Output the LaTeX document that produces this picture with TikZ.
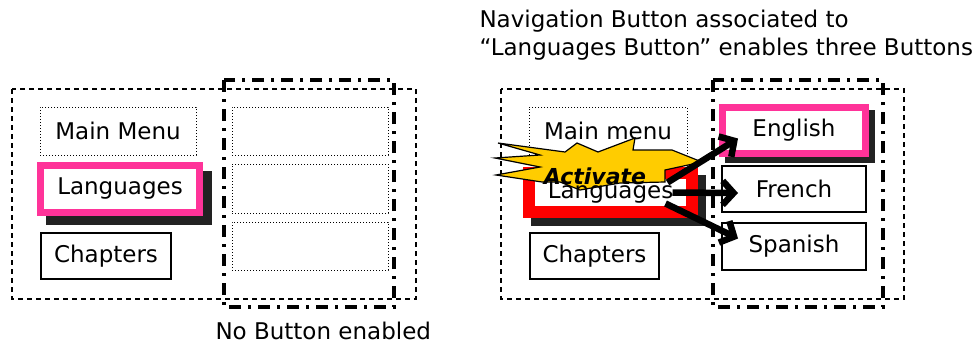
\documentclass[tikz,border=0pt]{standalone}
\usepackage{fontspec}
\setmainfont{DejaVu Sans}
\usetikzlibrary{arrows.meta,backgrounds}

\begin{document}
\begin{tikzpicture}[x=1pt,y=-1pt,
  btntext/.style={font=\fontsize{23}{28}\selectfont},
  acttext/.style={font=\fontsize{22}{26}\selectfont\bfseries\itshape},
  btn/.style={btntext,draw,fill=white,inner sep=0pt},
  idlebtn/.style={btn,line width=0.9pt,dash pattern=on 1pt off 2pt},
  plainbtn/.style={btn,line width=2pt},
  pinkbtn/.style={btn,draw=hotpink,line width=7pt},
  redbtn/.style={btn,draw=red,line width=12pt},
  btnshadow/.style={fill=shadowgrey},
  menuframe/.style={line width=1.5pt,dash pattern=on 5pt off 4pt},
  subframe/.style={line width=4pt,dash pattern=on 12pt off 7pt on 3pt off 7pt},
  burst/.style={fill=burstyellow,draw=black,line width=1.2pt},
  jump/.style={line width=6.5pt,-{Straight Barb[length=11pt,width=24pt]}},
]
\definecolor{hotpink}{RGB}{255,51,153}
\definecolor{shadowgrey}{RGB}{34,34,34}
\definecolor{burstyellow}{RGB}{255,204,0}

\useasboundingbox (0,0) rectangle (974,349);

% Title
\node[btntext,anchor=base west] (title1) at (476,27) {Navigation Button associated to};
\node[btntext,anchor=base west] (title2) at (476,55) {“Languages Button” enables three Buttons};

% Left: nothing enabled
\draw[menuframe] (12,89) rectangle (416,299);
\draw[subframe] (224,80) rectangle (394,307);
\node[idlebtn,minimum width=156,minimum height=48] (mainL) at (118,131) {Main Menu};
\node[pinkbtn,minimum width=159,minimum height=47] (langL) at (120,189) {Languages};
\node[plainbtn,minimum width=130,minimum height=46] (chapL) at (106,256) {Chapters};
\node[idlebtn,minimum width=156,minimum height=48] (slot1) at (310,131) {};
\node[idlebtn,minimum width=156,minimum height=49] (slot2) at (310,188.5) {};
\node[idlebtn,minimum width=156,minimum height=48] (slot3) at (310,246) {};
\node[btntext,anchor=base west] (nobtn) at (212,339) {No Button enabled};

% Right: languages activated
\draw[menuframe] (501,89) rectangle (904,299);
\draw[subframe] (713,80) rectangle (883,307);
\node[idlebtn,minimum width=158,minimum height=48] (mainR) at (608,131) {Main menu};
\node[redbtn,minimum width=163,minimum height=39] (langR) at (610.5,192.5) {};
\node[plainbtn,minimum width=129,minimum height=46] (chapR) at (594.5,256) {Chapters};
\node[pinkbtn,minimum width=143,minimum height=46] (engR) at (794,130.5) {English};
\node[plainbtn,minimum width=144,minimum height=46] (freR) at (794,189) {French};
\node[plainbtn,minimum width=144,minimum height=47] (spaR) at (794,246.5) {Spanish};

% Shadows
\begin{scope}[on background layer]
\fill[btnshadow] ([shift={(9,9)}]langL.north west) rectangle ([shift={(9,9)}]langL.south east);
\fill[btnshadow] ([shift={(8,8)}]langR.north west) rectangle ([shift={(8,8)}]langR.south east);
\fill[btnshadow] ([shift={(6,6)}]engR.north west) rectangle ([shift={(6,6)}]engR.south east);
\end{scope}

% Activate burst
\draw[burst] (498,143) -- (565,152) -- (577,143) -- (598,152) -- (635,138) -- (633,150)
  -- (672,150) -- (702,162) -- (665,170) -- (665,182) -- (620,183) -- (580,190)
  -- (560,182) -- (542,182) -- (496,175) -- (540,167) -- (495,158) -- (540,155) -- cycle;
\node[btntext] (langRtext) at (langR.center) {Languages};
\node[acttext] (act) at (595,176) {Activate};

% Enabled buttons
\draw[jump] ([shift={(57,-10)}]langR.center) -- ([shift={(19,8)}]engR.west);
\draw[jump] ([shift={(62,0)}]langR.center) -- ([shift={(17,4)}]freR.west);
\draw[jump] ([shift={(55,11)}]langR.center) -- ([shift={(17,-8)}]spaR.west);
\end{tikzpicture}
\end{document}
